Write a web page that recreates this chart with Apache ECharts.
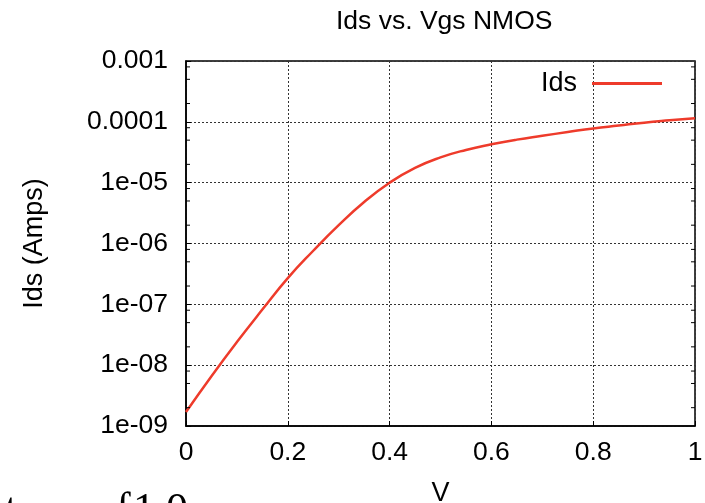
<!DOCTYPE html>
<html>
<head>
<meta charset="utf-8">
<style>html,body{margin:0;padding:0;background:#fff;overflow:hidden}#c{width:705px;height:503px}</style>
<script src="https://cdn.jsdelivr.net/npm/echarts@6/dist/echarts.min.js"></script>
</head>
<body>
<div id="c"></div>
<script>
// ---- data ----
var vgs = [0, 0.05, 0.1, 0.15, 0.2, 0.25, 0.3, 0.35, 0.4, 0.45, 0.5, 0.55, 0.6, 0.65, 0.7, 0.75, 0.8, 0.85, 0.9, 0.95, 1.0];
var ids = [1.7e-9, 6.6e-9, 2.4e-8, 8.2e-8, 2.7e-7, 7.6e-7, 2.0e-6, 4.8e-6, 1.0e-5, 1.75e-5, 2.6e-5, 3.45e-5, 4.27e-5, 5.1e-5, 5.9e-5, 6.8e-5, 7.8e-5, 8.7e-5, 9.7e-5, 1.06e-4, 1.15e-4];
var xTickLabels = ['0', '0.2', '0.4', '0.6', '0.8', '1'];
var yTickLabels = ['1e-09', '1e-08', '1e-07', '1e-06', '1e-05', '0.0001', '0.001'];
var minorMantissas = [2, 5, 8];
var seriesName = 'Ids';
var titleText = 'Ids vs. Vgs NMOS';
var yName = 'Ids (Amps)';
var xName = 'V';

var lineData = vgs.map(function (v, i) { return [v, ids[i]]; });
var minorVals = [];
for (var e = -9; e < -3; e++) {
  minorMantissas.forEach(function (m) { minorVals.push([m * Math.pow(10, e)]); });
}

var font = 'Liberation Sans, Arial, sans-serif';
var chart = echarts.init(document.getElementById('c'), null, {renderer: 'canvas'});
chart.setOption({
  animation: false,
  backgroundColor: '#fff',
  title: {
    text: titleText, left: 331, top: 3,
    textStyle: {fontFamily: font, fontSize: 26.5, fontWeight: 'normal', color: '#000'}
  },
  legend: {
    data: [{name: seriesName, icon: 'rect'}],
    right: 38, top: 65, align: 'right',
    itemWidth: 70, itemHeight: 3, itemGap: 10,
    textStyle: {fontFamily: font, fontSize: 27, color: '#000', padding: [0, 10, 0, 0]}
  },
  grid: {left: 186, right: 10, top: 61, bottom: 77, show: true, borderColor: '#000', borderWidth: 1.5,
    containLabel: false, outerBoundsMode: 'none'},
  xAxis: {
    type: 'value', min: 0, max: 1, interval: 0.2,
    name: xName, nameLocation: 'middle', nameGap: 54,
    nameTextStyle: {fontFamily: font, fontSize: 27, color: '#000'},
    axisLine: {show: true, lineStyle: {color: '#000', width: 1.5}},
    axisTick: {show: true, inside: true, length: 5, lineStyle: {color: '#000'}},
    axisLabel: {margin: 13, fontFamily: font, fontSize: 26.5, color: '#000',
      formatter: function (v) { return xTickLabels[Math.round(v / 0.2)]; }},
    splitLine: {show: true, lineStyle: {color: '#333', width: 1, type: [2, 2]}}
  },
  yAxis: {
    type: 'log', logBase: 10, min: 1e-9, max: 1e-3,
    name: yName, nameLocation: 'middle', nameGap: 138, nameRotate: 90,
    nameTextStyle: {fontFamily: font, fontSize: 27, color: '#000'},
    axisLine: {show: true, lineStyle: {color: '#000', width: 1.5}},
    axisTick: {show: true, inside: true, length: 5, lineStyle: {color: '#000'}},
    axisLabel: {margin: 18, fontFamily: font, fontSize: 26.5, color: '#000',
      formatter: function (v) { return yTickLabels[Math.round(Math.log10(v)) + 9]; }},
    splitLine: {show: true, lineStyle: {color: '#333', width: 1, type: [2, 2]}}
  },
  series: [
    {
      name: seriesName, type: 'line', data: lineData, smooth: 0.5,
      showSymbol: false, symbol: 'none',
      lineStyle: {color: '#ee3b2b', width: 2.5}, itemStyle: {color: '#ee3b2b'}
    },
    {
      name: 'minor', type: 'custom', data: minorVals, silent: true, z: 5,
      renderItem: function (params, api) {
        var v = api.value(0);
        var pL = api.coord([0, v]);
        var pR = api.coord([1, v]);
        return {type: 'group', children: [
          {type: 'line', shape: {x1: pL[0], y1: pL[1], x2: pL[0] + 4, y2: pL[1]}, style: {stroke: '#000', lineWidth: 1}},
          {type: 'line', shape: {x1: pR[0], y1: pR[1], x2: pR[0] - 4, y2: pR[1]}, style: {stroke: '#000', lineWidth: 1}}
        ]};
      },
      encode: {y: 0}
    }
  ],
  graphic: [
    {type: 'text', left: 5, top: 489, style: {text: 't', font: '44px "Liberation Serif", serif', fill: '#000'}},
    {type: 'text', left: 116, top: 489, style: {text: 'f', font: '44px "Liberation Serif", serif', fill: '#000'}},
    {type: 'text', left: 133, top: 489, style: {text: '1.0', font: '44px "Liberation Serif", serif', fill: '#000'}}
  ]
});
</script>
</body>
</html>
